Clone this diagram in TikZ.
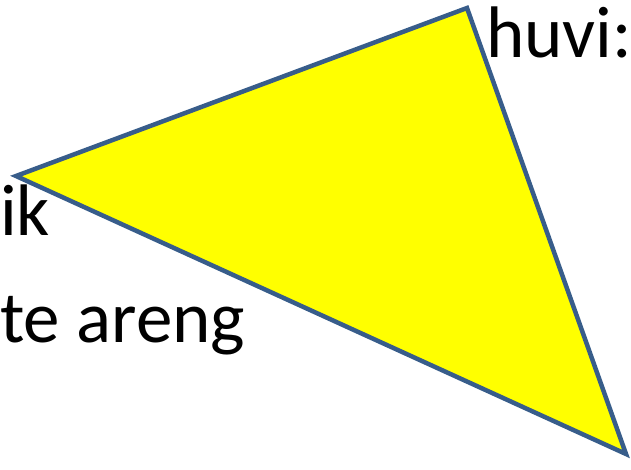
\documentclass[tikz,border=0pt]{standalone}
\usepackage{fontspec}
\setmainfont{Carlito}
\definecolor{serv}{RGB}{56,93,138}
\definecolor{kollane}{RGB}{255,255,0}
\begin{document}
\begin{tikzpicture}[
  x=1pt,
  y=-1pt,
  line join=miter,
  tekst/.style={inner sep=0pt, anchor=base west, font=\fontsize{73}{88}\selectfont}
]
  \useasboundingbox (0,0) rectangle (631,469);

  % Kolmnurga tipud
  \coordinate (T) at (467,8);
  \coordinate (V) at (16,176);
  \coordinate (P) at (626,454);

  % Kolmnurk
  \filldraw[fill=kollane, draw=serv, line width=4.5pt] (T)--(V)--(P)--cycle;

  % Tekstid
  \node[tekst] (huvi) at (486,57) {huvi:};
  \node[tekst] (ik) at (0,235) {ik};
  \node[tekst] (areng) at (0,342) {te areng};
\end{tikzpicture}
\end{document}
